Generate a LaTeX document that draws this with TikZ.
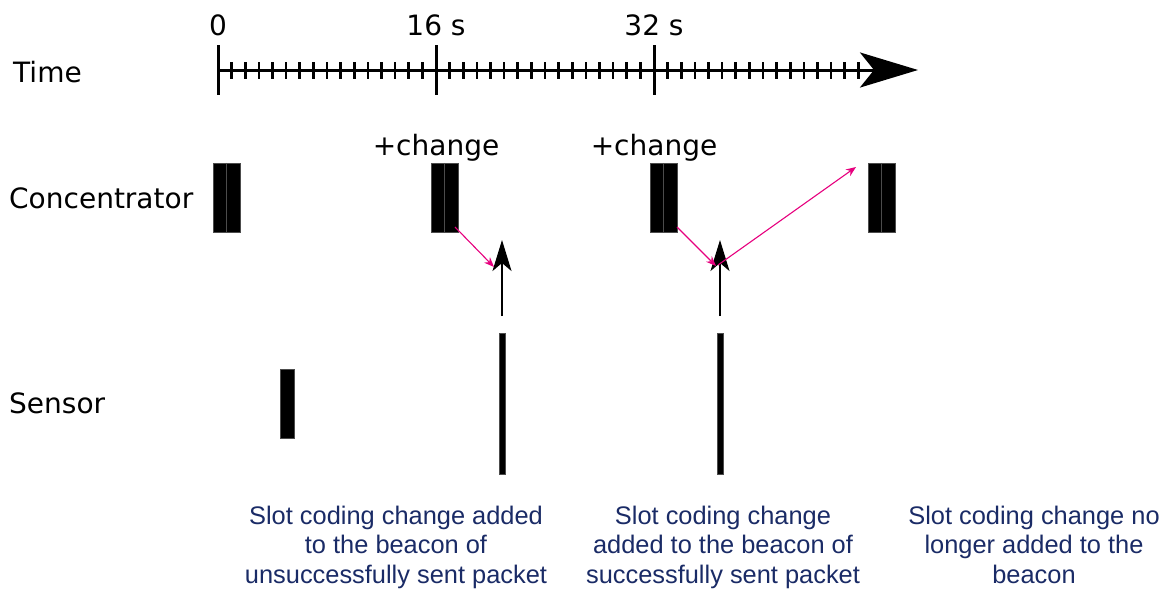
\documentclass[tikz,border=0pt]{standalone}
\usepackage{fontspec}
\setmainfont{DejaVu Sans}
\newfontfamily\arialf{Liberation Sans}
\usetikzlibrary{arrows.meta}
\definecolor{pinkarrow}{RGB}{230,0,126}
\definecolor{navytext}{RGB}{26,43,102}
\tikzset{
  lbl/.style={anchor=base west, inner sep=0pt, font=\fontsize{28}{33}\selectfont},
  toplbl/.style={anchor=base, inner sep=0pt, font=\fontsize{28}{33}\selectfont},
  note/.style={anchor=north, inner sep=0pt, align=center, text=navytext, font=\arialf\fontsize{25.4}{29.5}\selectfont},
  cblock/.style={fill=black, draw=black!70, line width=0.5pt, minimum width=27pt, minimum height=69pt, inner sep=0pt},
  midline/.style={draw=black!70, line width=0.4pt},
  sblock/.style={fill=black, draw=black!70, line width=0.5pt, minimum width=14pt, minimum height=69pt, inner sep=0pt},
  sline/.style={fill=black, draw=black!70, line width=0.4pt, minimum width=6pt, minimum height=141pt, inner sep=0pt},
  axisline/.style={line width=3pt, -{Stealth[length=58pt,width=35pt,inset=14pt]}},
  majortick/.style={line width=3pt},
  minortick/.style={line width=2.6pt},
  uparrow/.style={line width=2pt, -{Stealth[length=31pt,width=19pt,inset=8pt]}},
  pinkarr/.style={pinkarrow, line width=1.1pt, -{Stealth[length=10pt,width=8pt]}},
}
\begin{document}
\begin{tikzpicture}[x=1pt,y=-1pt]
\useasboundingbox (0,0) rectangle (1174,590);
% labels
\node[lbl] (time) at (13,82) {Time};
\node[lbl] (conc) at (9,208) {Concentrator};
\node[lbl] (sens) at (9,413) {Sensor};
% axis
\coordinate (a0) at (218,70);
\coordinate (aend) at (918,70);
\draw[axisline] (a0) -- (aend);
\foreach \i in {1,...,47} {
  \draw[minortick] (218+13.625*\i,62) -- (218+13.625*\i,79);
}
\foreach \x in {218,436,654} {
  \draw[majortick] (\x,45) -- (\x,95);
}
\node[toplbl] (t0) at (218,35) {0};
\node[toplbl] (t16) at (436,35) {16 s};
\node[toplbl] (t32) at (654,35) {32 s};
% concentrator blocks
\foreach \x/\n in {226.5/c1,444.5/c2,663.5/c3,881.5/c4} {
  \node[cblock] (\n) at (\x,197.5) {};
  \draw[midline] (\n.north) -- (\n.south);
}
\node[toplbl] (ch1) at (436,155) {+change};
\node[toplbl] (ch2) at (654,155) {+change};
% sensor
\node[sblock] (s0) at (287,403.5) {};
\node[sline] (s1) at (502.5,403.5) {};
\node[sline] (s2) at (720.5,403.5) {};
% up arrows
\coordinate (u1b) at (502,316);
\coordinate (u1t) at (502,240);
\coordinate (u2b) at (720,316);
\coordinate (u2t) at (720,240);
\draw[uparrow] (u1b) -- (u1t);
\draw[uparrow] (u2b) -- (u2t);
% pink arrows
\coordinate (p1s) at (455,227);
\coordinate (p1e) at (494,267);
\coordinate (p2s) at (677,227);
\coordinate (p2e) at (716,266);
\coordinate (p3s) at (718,265);
\coordinate (p3e) at (856,167);
\draw[pinkarr] (p1s) -- (p1e);
\draw[pinkarr] (p2s) -- (p2e);
\draw[pinkarr] (p3s) -- (p3e);
% notes
\node[note] (n1) at (396,505.5) {Slot coding change added\\to the beacon of\\unsuccessfully sent packet};
\node[note] (n2) at (723,505.5) {Slot coding change\\added to the beacon of\\successfully sent packet};
\node[note] (n3) at (1034,505.5) {Slot coding change no\\longer added to the\\beacon};
\end{tikzpicture}
\end{document}
